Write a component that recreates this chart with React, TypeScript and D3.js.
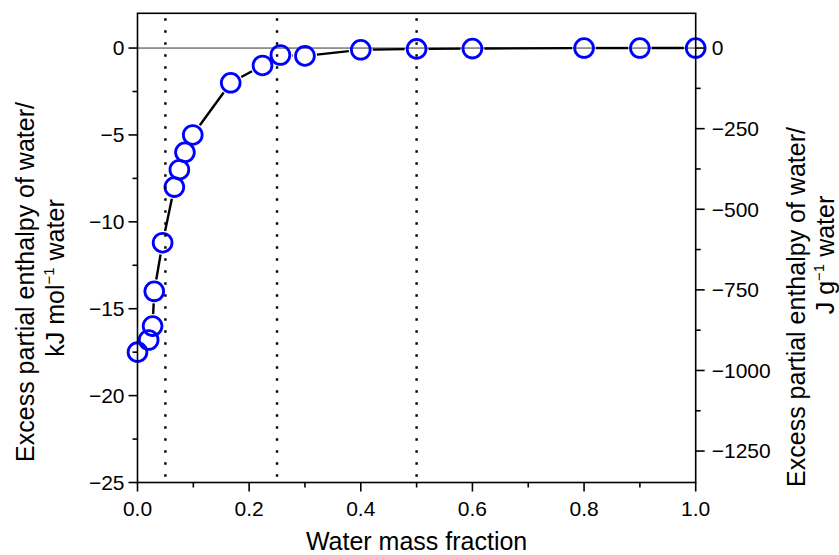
import React from "react";
import * as d3 from "d3";

const waterFraction = [0, 0.02, 0.027, 0.03, 0.045, 0.066, 0.075, 0.085, 0.099, 0.167, 0.224, 0.256, 0.3, 0.4, 0.5, 0.6, 0.8, 0.9, 1.0];
const enthalpyKJ = [-17.5, -16.8, -16.0, -14.0, -11.2, -8.0, -7.0, -6.0, -5.0, -2.0, -1.0, -0.4, -0.45, -0.1, -0.05, -0.03, 0, 0, 0];
const xTicks = [0, 0.2, 0.4, 0.6, 0.8, 1.0];
const xMinor = [0.1, 0.3, 0.5, 0.7, 0.9];
const yTicks = [0, -5, -10, -15, -20, -25];
const yMinor = [-2.5, -7.5, -12.5, -17.5, -22.5];
const rTicks = [0, -250, -500, -750, -1000, -1250];
const rMinor = [-125, -375, -625, -875, -1125];
const dottedX = [0.05, 0.25, 0.5];
const jPerKJ = 53.9;

const W = 839, H = 555;
const L = 137.5, R = 695.7, T = 13.3, B = 482.5;
const FONT = "Liberation Sans, Arial, Helvetica, sans-serif";

export default function App() {
  const x = d3.scaleLinear().domain([0, 1]).range([L, R]);
  const y = d3.scaleLinear().domain([-25, 2]).range([B, T]);
  const yr = d3.scaleLinear().domain([-25 * jPerKJ, 2 * jPerKJ]).range([B, T]);
  const fmtX = d3.format(".1f");
  const minus = (v: number) => (v < 0 ? "\u2212" + Math.abs(v) : String(v));

  const pts = waterFraction.map((w, i) => [x(w), y(enthalpyKJ[i])]);
  const gap = 12;
  const segs: string[] = [];
  for (let i = 0; i < pts.length - 1; i++) {
    const [x1, y1] = pts[i];
    const [x2, y2] = pts[i + 1];
    const d = Math.hypot(x2 - x1, y2 - y1);
    if (d <= 2 * gap) continue;
    const ux = (x2 - x1) / d, uy = (y2 - y1) / d;
    segs.push(`M${x1 + ux * gap},${y1 + uy * gap}L${x2 - ux * gap},${y2 - uy * gap}`);
  }

  const tickFs = 21;
  const titleFs = 25;

  return (
    <svg width={W} height={H} style={{ position: "absolute", left: 0, top: 0 }} fontFamily={FONT}>
      <rect width={W} height={H} fill="#fff" />
      <line x1={L} x2={R} y1={y(0)} y2={y(0)} stroke="#333" strokeWidth={1} />
      {segs.map((d, i) => (
        <path key={i} d={d} stroke="#000" strokeWidth={2.4} fill="none" />
      ))}
      {pts.map(([cx, cy], i) => (
        <circle key={i} cx={cx} cy={cy} r={9.4} fill="none" stroke="#0000ff" strokeWidth={2.8} />
      ))}
      {dottedX.map((v) => (
        <line key={v} x1={x(v)} x2={x(v)} y1={T + 5} y2={B} stroke="#000" strokeWidth={2.4} strokeDasharray="2.4 9.6" />
      ))}
      <rect x={L} y={T} width={R - L} height={B - T} fill="none" stroke="#000" strokeWidth={1.6} />
      {xTicks.map((v) => (
        <g key={v}>
          <line x1={x(v)} x2={x(v)} y1={B} y2={B + 9} stroke="#000" strokeWidth={1.6} />
          <text x={x(v)} y={B + 33} textAnchor="middle" fontSize={tickFs}>{fmtX(v)}</text>
        </g>
      ))}
      {xMinor.map((v) => (
        <line key={v} x1={x(v)} x2={x(v)} y1={B} y2={B + 5} stroke="#000" strokeWidth={1.6} />
      ))}
      {yTicks.map((v) => (
        <g key={v}>
          <line x1={L - 9} x2={L} y1={y(v)} y2={y(v)} stroke="#000" strokeWidth={1.6} />
          <text x={L - 13} y={y(v)} dy="0.35em" textAnchor="end" fontSize={tickFs}>{minus(v)}</text>
        </g>
      ))}
      {yMinor.map((v) => (
        <line key={v} x1={L - 5} x2={L} y1={y(v)} y2={y(v)} stroke="#000" strokeWidth={1.6} />
      ))}
      {rTicks.map((v) => (
        <g key={v}>
          <line x1={R} x2={R + 9} y1={yr(v)} y2={yr(v)} stroke="#000" strokeWidth={1.6} />
          <text x={R + 16} y={yr(v)} dy="0.35em" textAnchor="start" fontSize={tickFs}>{minus(v)}</text>
        </g>
      ))}
      {rMinor.map((v) => (
        <line key={v} x1={R} x2={R + 5} y1={yr(v)} y2={yr(v)} stroke="#000" strokeWidth={1.6} />
      ))}
      <text x={(L + R) / 2} y={550} textAnchor="middle" fontSize={titleFs}>Water mass fraction</text>
      <g transform={`translate(34, 282) rotate(-90)`}>
        <text x={0} y={0} textAnchor="middle" fontSize={titleFs}>Excess partial enthalpy of water/</text>
      </g>
      <g transform={`translate(64, 278) rotate(-90)`}>
        <text x={0} y={0} textAnchor="middle" fontSize={titleFs}>
          kJ mol<tspan dy={-10} fontSize={15}>{"\u22121"}</tspan><tspan dy={10}> water</tspan>
        </text>
      </g>
      <g transform={`translate(805, 307) rotate(-90)`}>
        <text x={0} y={0} textAnchor="middle" fontSize={titleFs}>Excess partial enthalpy of water/</text>
      </g>
      <g transform={`translate(834, 255) rotate(-90)`}>
        <text x={0} y={0} textAnchor="middle" fontSize={titleFs}>
          J g<tspan dy={-10} fontSize={15}>{"\u22121"}</tspan><tspan dy={10}> water</tspan>
        </text>
      </g>
    </svg>
  );
}
